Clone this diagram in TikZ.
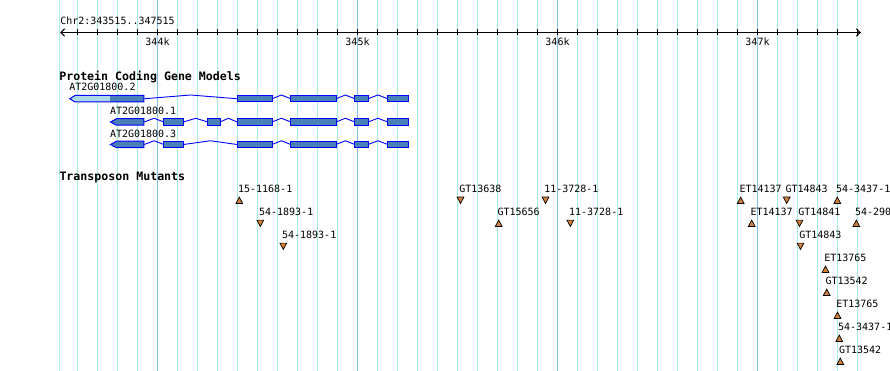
\documentclass[tikz,border=0pt]{standalone}
\usepackage{fontspec}
\setmonofont{DejaVu Sans Mono}
\usetikzlibrary{arrows.meta,calc}
\definecolor{gridc}{HTML}{A4EEE6}
\definecolor{majc}{HTML}{84C0EE}
\definecolor{exonfill}{HTML}{4A80B8}
\definecolor{utrfill}{HTML}{ADD8E6}
\definecolor{exonline}{HTML}{0000FF}
\definecolor{mutfill}{HTML}{D2803A}
\tikzset{
  lbl/.style={font=\fontsize{10}{12}\selectfont\ttfamily, inner sep=0pt, outer sep=0pt},
  ttl/.style={font=\fontsize{11.6}{14}\selectfont\ttfamily\bfseries, inner sep=0pt, outer sep=0pt},
  gridl/.style={draw=gridc, line width=1pt},
  majl/.style={draw=majc, line width=1pt},
  tickl/.style={draw=black, line width=1pt},
  exonbox/.style={rectangle, draw=exonline, fill=exonfill, line width=1pt, inner sep=0pt, outer sep=0pt, minimum height=6.5pt},
  firstex/.style={draw=exonline, line width=1pt, line join=miter},
  intronl/.style={draw=exonline, line width=0.9pt},
  mutl/.style={draw=black, fill=mutfill, line width=0.7pt, line join=miter}
}
\newcommand\myexon[4]{\node[exonbox, minimum width=#3pt] (#1) at (#2,#4) {};}
\newcommand\myintron[2]{\draw[intronl] #1 -- ([yshift=3.75pt]$#1!0.5!#2$) -- #2;}
\begin{document}
\begin{tikzpicture}[x=1pt,y=-1pt]
\useasboundingbox (0,0) rectangle (890,371);
\fill[white] (0,0) rectangle (890,371);
\clip (0,0) rectangle (890,371);
% grid
\draw[gridl] (59.5,0) -- (59.5,371);
\foreach \k in {0,...,39} \draw[gridl] ({77.5+20*\k},0) -- ++(0,371);
\foreach \gx in {157.5,357.5,557.5,757.5} \draw[majl] (\gx,0) -- (\gx,371);
% axis
\coordinate (axl) at (60,32.5);
\coordinate (axr) at (861,32.5);
\draw[line width=1pt, {Straight Barb[length=4pt,width=7.5pt]}-{Straight Barb[length=4pt,width=7.5pt]}] (axl) -- (axr);
\foreach \k in {0,...,39} \draw[tickl] ({77.5+20*\k},29.5) -- ++(0,6);
\node[lbl, anchor=base west] (chr) at (60.3,25) {Chr2:343515..347515};
\node[lbl, anchor=base] (k344) at (157.5,46) {344k};
\node[lbl, anchor=base] (k345) at (357.5,46) {345k};
\node[lbl, anchor=base] (k346) at (557.5,46) {346k};
\node[lbl, anchor=base] (k347) at (757.5,46) {347k};
% gene models
\node[ttl, anchor=base west] (pcgm) at (59.3,80.7) {Protein Coding Gene Models};
\node[lbl, anchor=base west] (n2) at (69.3,91) {AT2G01800.2};
\node[lbl, anchor=base west] (n1) at (110,115) {AT2G01800.1};
\node[lbl, anchor=base west] (n3) at (110,137.3) {AT2G01800.3};
% row .2
\fill[utrfill] (69.8,98.75) -- (75,95.5) -- (110.3,95.5) -- (110.3,102) -- (75,102) -- cycle;
\fill[exonfill] (110.3,95.5) rectangle (143.8,102);
\draw[firstex] (69.8,98.75) -- (75,95.5) -- (143.8,95.5) -- (143.8,102) -- (75,102) -- cycle;
\coordinate (g2a) at (144.3,98.75);
\myexon{g2b}{254.5}{35}{98.75}
\myexon{g2c}{313.4}{45.2}{98.75}
\myexon{g2d}{361.4}{13.2}{98.75}
\myexon{g2e}{397.9}{20.2}{98.75}
\myintron{(g2a)}{(g2b.west)}
\myintron{(g2b.east)}{(g2c.west)}
\myintron{(g2c.east)}{(g2d.west)}
\myintron{(g2d.east)}{(g2e.west)}
% row .1
\draw[firstex, fill=exonfill] (110.5,122) -- (116.5,118.75) -- (143.8,118.75) -- (143.8,125.25) -- (116.5,125.25) -- cycle;
\coordinate (g1a) at (144.3,122);
\myexon{g1b}{173.65}{19.7}{122}
\myexon{g1c}{213.9}{12.2}{122}
\myexon{g1d}{254.5}{35}{122}
\myexon{g1e}{313.4}{45.2}{122}
\myexon{g1f}{361.4}{13.2}{122}
\myexon{g1g}{397.9}{20.2}{122}
\myintron{(g1a)}{(g1b.west)}
\myintron{(g1b.east)}{(g1c.west)}
\myintron{(g1c.east)}{(g1d.west)}
\myintron{(g1d.east)}{(g1e.west)}
\myintron{(g1e.east)}{(g1f.west)}
\myintron{(g1f.east)}{(g1g.west)}
% row .3
\draw[firstex, fill=exonfill] (110.5,144.5) -- (116.5,141.25) -- (143.8,141.25) -- (143.8,147.75) -- (116.5,147.75) -- cycle;
\coordinate (g3a) at (144.3,144.5);
\myexon{g3b}{173.65}{19.7}{144.5}
\myexon{g3c}{254.5}{35}{144.5}
\myexon{g3d}{313.4}{45.2}{144.5}
\myexon{g3e}{361.4}{13.2}{144.5}
\myexon{g3f}{397.9}{20.2}{144.5}
\myintron{(g3a)}{(g3b.west)}
\myintron{(g3b.east)}{(g3c.west)}
\myintron{(g3c.east)}{(g3d.west)}
\myintron{(g3d.east)}{(g3e.west)}
\myintron{(g3e.east)}{(g3f.west)}
% transposon mutants
\node[ttl, anchor=base west] (tm) at (59.5,180.7) {Transposon Mutants};
\foreach \x/\r/\s/\t [count=\i] in {
  239.3/1/-1/15-1168-1,
  260.3/2/1/54-1893-1,
  283.3/3/1/54-1893-1,
  460.5/1/1/GT13638,
  498.7/2/-1/GT15656,
  545.5/1/1/11-3728-1,
  570.3/2/1/11-3728-1,
  740.7/1/-1/ET14137,
  786.7/1/1/GT14843,
  837.3/1/-1/54-3437-1,
  751.7/2/-1/ET14137,
  799.5/2/1/GT14841,
  856.3/2/-1/54-290,
  800.5/3/1/GT14843,
  825.5/4/-1/ET13765,
  826.7/5/-1/GT13542,
  837.5/6/-1/ET13765,
  839.3/7/-1/54-3437-1,
  840.3/8/-1/GT13542}{
  \pgfmathsetmacro\yb{192.7+23*(\r-1)}
  \pgfmathsetmacro\yc{\yb+7.6}
  \node[lbl, anchor=base west] (m\i) at ({\x-1.2},\yb) {\t};
  \coordinate (t\i) at (\x,\yc);
  \draw[mutl] ($(t\i)+(0,\s*3.2)$) -- ($(t\i)+(-3.4,-\s*3.2)$) -- ($(t\i)+(3.4,-\s*3.2)$) -- cycle;
}
\end{tikzpicture}
\end{document}
